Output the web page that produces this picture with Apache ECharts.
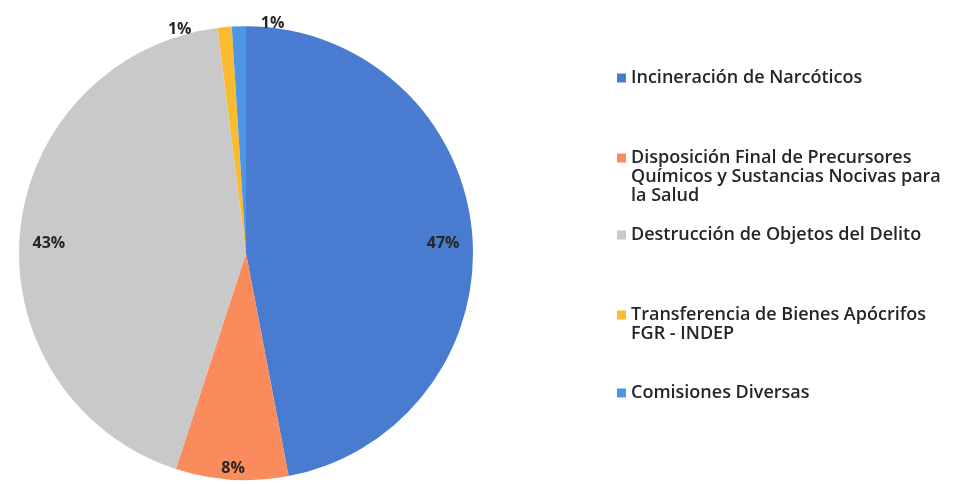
<!DOCTYPE html>
<html>
<head>
<meta charset="utf-8">
<script src="https://cdn.jsdelivr.net/npm/echarts@6/dist/echarts.min.js"></script>
<style>
  html, body { margin: 0; padding: 0; background: #ffffff; }
  #chart { width: 955px; height: 484px; }
</style>
</head>
<body>
<div id="chart"></div>
<script>
// Slice names, shares (%) and the wrapped legend text for each slice
const categories = [
  'Incineración de Narcóticos',
  'Disposición Final de Precursores Químicos y Sustancias Nocivas para la Salud',
  'Destrucción de Objetos del Delito',
  'Transferencia de Bienes Apócrifos FGR - INDEP',
  'Comisiones Diversas'
];
const shares = [47, 8, 43, 1, 1];
const legendLines = [
  ['Incineración de Narcóticos'],
  ['Disposición Final de Precursores', 'Químicos y Sustancias Nocivas para', 'la Salud'],
  ['Destrucción de Objetos del Delito'],
  ['Transferencia de Bienes Apócrifos', 'FGR - INDEP'],
  ['Comisiones Diversas']
];
const colors = ['#497CD0', '#F98B5D', '#C9C9C9', '#FBBB30', '#4E96E3'];

// Layout constants
const CENTER = [0.2576, 0.523];     // fraction of width / height
const RADIUS = 0.938;               // fraction of min(width, height) / 2
const LEGEND_LEFT = 617;
const LEGEND_FIRST_LINE = [78, 158, 235, 315, 393];
const LH = 19;
const FONT = '"Open Sans", "DejaVu Sans", sans-serif';
const INSIDE_DROP = 9;              // inside labels sit a little below the mid-angle ray
// small slices get their labels outside, pushed apart so they don't collide
const OUTSIDE_NUDGE = { 3: [-44, 12], 4: [34, 7] };

const chart = echarts.init(document.getElementById('chart'), null, { renderer: 'canvas' });

const total = shares.reduce((a, b) => a + b, 0);

// Inside labels sit near the rim ("inside end"); tiny slices get theirs just outside
function placeLabel(p) {
  const i = p.dataIndex;
  const w = chart.getWidth(), h = chart.getHeight();
  const cx = w * CENTER[0], cy = h * CENTER[1];
  const R = Math.min(w, h) / 2 * RADIUS;
  let before = 0;
  for (let j = 0; j < i; j++) before += shares[j];
  const mid = (before + shares[i] / 2) / total * Math.PI * 2;
  const sx = Math.sin(mid), sy = -Math.cos(mid);
  const ext = Math.abs(sx) * p.labelRect.width / 2 + Math.abs(sy) * p.labelRect.height / 2;
  const inside = shares[i] / total >= 0.05;
  const r = inside ? R - 12 - ext : R + 1 + ext;
  const nudge = inside ? [0, INSIDE_DROP] : (OUTSIDE_NUDGE[i] || [0, 0]);
  return {
    x: cx + r * sx + nudge[0],
    y: cy + r * sy + nudge[1],
    align: 'center',
    verticalAlign: 'middle'
  };
}

// One legend per entry so each can sit at its own height; the marker lines up
// with the first text line (leading empty lines keep the block centred on it)
const legends = categories.map((name, i) => {
  const n = legendLines[i].length;
  return {
    data: [name],
    orient: 'vertical',
    left: LEGEND_LEFT,
    top: LEGEND_FIRST_LINE[i] - (2 * n - 1) * LH / 2,
    padding: 0,
    itemWidth: 9,
    itemHeight: 9,
    itemGap: 0,
    icon: 'rect',
    selectedMode: false,
    formatter: () => '\n'.repeat(n - 1) + legendLines[i].join('\n'),
    textStyle: {
      fontFamily: FONT,
      fontSize: 18,
      fontWeight: 600,
      color: '#262626',
      lineHeight: LH
    }
  };
});

chart.setOption({
  animation: false,
  backgroundColor: '#ffffff',
  color: colors,
  legend: legends,
  series: [{
    type: 'pie',
    center: [(CENTER[0] * 100) + '%', (CENTER[1] * 100) + '%'],
    radius: (RADIUS * 100) + '%',
    startAngle: 90,
    clockwise: true,
    avoidLabelOverlap: false,
    itemStyle: { borderWidth: 0 },
    label: {
      show: true,
      position: 'inside',
      formatter: '{c}%',
      fontFamily: FONT,
      fontSize: 16,
      fontWeight: 700,
      color: '#262626'
    },
    labelLine: { show: false },
    labelLayout: placeLabel,
    emphasis: { disabled: true },
    data: categories.map((name, i) => ({ name: name, value: shares[i] }))
  }]
});
</script>
</body>
</html>
